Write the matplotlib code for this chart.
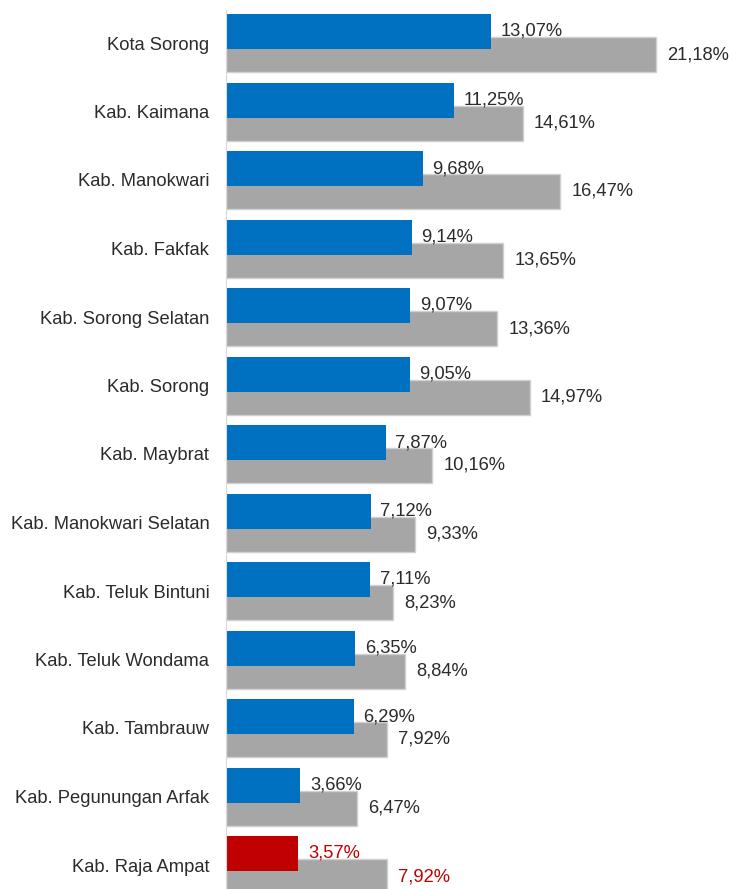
import matplotlib.pyplot as plt

plt.rcParams['font.family'] = ['Liberation Sans', 'DejaVu Sans']

kabupaten = ['Kota Sorong', 'Kab. Kaimana', 'Kab. Manokwari', 'Kab. Fakfak',
             'Kab. Sorong Selatan', 'Kab. Sorong', 'Kab. Maybrat',
             'Kab. Manokwari Selatan', 'Kab. Teluk Bintuni', 'Kab. Teluk Wondama',
             'Kab. Tambrauw', 'Kab. Pegunungan Arfak', 'Kab. Raja Ampat']
biru = [13.07, 11.25, 9.68, 9.14, 9.07, 9.05, 7.87, 7.12, 7.11, 6.35, 6.29, 3.66, 3.57]
abu = [21.18, 14.61, 16.47, 13.65, 13.36, 14.97, 10.16, 9.33, 8.23, 8.84, 7.92, 6.47, 7.92]
sorot = 'Kab. Raja Ampat'

BIRU = '#0070C0'
ABU = '#A6A6A6'
MERAH = '#C00000'
TEKS = '#2B2B2B'

W, H = 729, 889
fig = plt.figure(figsize=(W / 100, H / 100), dpi=100)
x0 = 226
px_per_pct = 20.3
ax = fig.add_axes([x0 / W, 0, (W - x0) / W, 1])

step = 68.5
geser = 23 / step
tinggi = 35 / step
pos = list(range(len(kabupaten)))
fs = 13.2

for i, nama in enumerate(kabupaten):
    warna = MERAH if nama == sorot else BIRU
    warna_teks = MERAH if nama == sorot else TEKS
    ax.barh(i + geser, abu[i], height=tinggi, color=ABU, edgecolor='#D0D0D0',
            linewidth=1, zorder=1)
    ax.barh(i, biru[i], height=tinggi, color=warna, linewidth=0, zorder=2)
    ax.annotate(f'{biru[i]:.2f}%'.replace('.', ','), (biru[i], i),
                xytext=(7, 0), textcoords='offset points', va='center',
                ha='left', fontsize=fs, color=warna_teks, zorder=3)
    ax.annotate(f'{abu[i]:.2f}%'.replace('.', ','), (abu[i], i + geser),
                xytext=(8, 0), textcoords='offset points', va='center',
                ha='left', fontsize=fs, color=warna_teks, zorder=3)

ax.set_xlim(0, (W - x0) / px_per_pct)
ax.set_ylim((H - 31.5) / step, -31.5 / step)

ax.set_yticks([p + geser / 2 for p in pos])
ax.set_yticklabels(kabupaten, fontsize=fs, color=TEKS)
ax.tick_params(axis='y', length=0, pad=12)
ax.set_xticks([])

for s in ['top', 'right', 'bottom']:
    ax.spines[s].set_visible(False)
ax.spines['left'].set_color('#D9D9D9')
ax.spines['left'].set_bounds(-21.5 / step, (H - 31.5) / step)

fig.savefig('out.png', dpi=100)
